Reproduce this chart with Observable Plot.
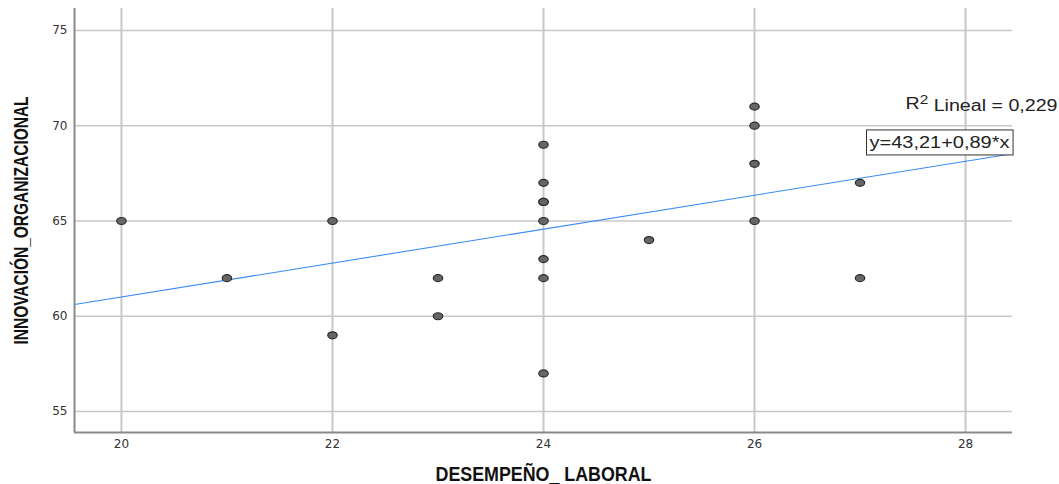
<!DOCTYPE html>
<html><head><meta charset="utf-8">
<script src="https://cdn.jsdelivr.net/npm/d3@7"></script>
<script src="https://cdn.jsdelivr.net/npm/@observablehq/plot@0.6"></script>
<style>body{margin:0;background:#fff;overflow:hidden}</style>
</head><body><div id="chart"></div>
<script>
const desempeno  = [20,21,22,22,23,23,24,24,24,24,24,24,24,24,25,26,26,26,26,27,27];
const innovacion = [65,62,65,59,62,60,69,67,66,66,65,63,62,57,64,71,70,68,65,67,62];
const intercept = 43.21, slope = 0.89;
const r2Value = "0,229";
const eqLabel = "y=43,21+0,89*x";
const xTicks = [20,22,24,26,28];
const yTicks = [55,60,65,70,75];
const xDomain = [19.555, 28.445];
const yDomain = [53.9, 76.15];
const xTitle = "DESEMPEÑO_ LABORAL";
const yTitle = "INNOVACIÓN_ORGANIZACIONAL";

const pts = desempeno.map((d,i) => ({x: d, y: innovacion[i]}));
const fit = xDomain.map(x => ({x, y: intercept + slope * x}));

// elliptical marker symbol (wider than tall)
const ellipse = {
  draw(ctx, size) {
    const rx = 4.7, ry = 3.5, k = 0.5523;
    ctx.moveTo(rx, 0);
    ctx.bezierCurveTo(rx, ry * k, rx * k, ry, 0, ry);
    ctx.bezierCurveTo(-rx * k, ry, -rx, ry * k, -rx, 0);
    ctx.bezierCurveTo(-rx, -ry * k, -rx * k, -ry, 0, -ry);
    ctx.bezierCurveTo(rx * k, -ry, rx, -ry * k, rx, 0);
    ctx.closePath();
  }
};

const chart = Plot.plot({
  width: 1059, height: 484,
  marginLeft: 74, marginRight: 47, marginTop: 8, marginBottom: 52,
  style: {fontFamily: "'DejaVu Sans', sans-serif", background: "#fff"},
  x: {domain: xDomain, ticks: xTicks},
  y: {domain: yDomain, ticks: yTicks},
  marks: [
    Plot.gridX(xTicks, {stroke: "#c8c8c8", strokeOpacity: 1, strokeWidth: 2}),
    Plot.gridY(yTicks, {stroke: "#c8c8c8", strokeOpacity: 1, strokeWidth: 1.5}),
    Plot.axisX(xTicks, {tickSize: 0, tickPadding: 7, fontSize: 12, color: "#333", label: null}),
    Plot.axisY(yTicks, {tickSize: 0, tickPadding: 7, fontSize: 12, color: "#333", label: null}),
    Plot.ruleX([xDomain[0]], {stroke: "#8a8a8a", strokeWidth: 2}),
    Plot.ruleY([yDomain[0]], {stroke: "#8a8a8a", strokeWidth: 2}),
    Plot.line(fit, {x: "x", y: "y", stroke: "#3b8bf5", strokeWidth: 1.1}),
    Plot.dot(pts, {x: "x", y: "y", symbol: ellipse, fill: "#666", stroke: "#2a2a2a", strokeWidth: 1.2}),
    Plot.text([`R2 Lineal = ${r2Value}`], {frameAnchor: "top-right", lineAnchor: "middle", dx: 45, dy: 95.5, textAnchor: "end", fontSize: 16, fill: "#222", className: "r2"}),
    Plot.text([eqLabel], {frameAnchor: "top-right", lineAnchor: "middle", dx: -3, dy: 134, textAnchor: "end", fontSize: 17, fill: "#222", className: "eq"}),
    Plot.text([xTitle], {frameAnchor: "bottom", lineAnchor: "middle", dy: 42, fontSize: 20, fontWeight: "bold", fill: "#111", className: "ttl ttlx"}),
    Plot.text([yTitle], {frameAnchor: "left", textAnchor: "middle", dx: -53, rotate: -90, fontSize: 20, fontWeight: "bold", fill: "#111", className: "ttl ttly"})
  ]
});
document.getElementById("chart").appendChild(chart);

const svg = d3.select(chart);
const sans = "'Liberation Sans', Arial, sans-serif";
svg.selectAll(".ttl text").style("font-family", sans);
svg.select(".ttlx text").attr("textLength", 216).attr("lengthAdjust", "spacingAndGlyphs");
svg.select(".ttly text").attr("textLength", 248).attr("lengthAdjust", "spacingAndGlyphs");

const r2 = svg.select(".r2 text").style("font-family", sans);
r2.text(null);
r2.append("tspan").text("R");
r2.append("tspan").attr("dy", "-0.42em").attr("font-size", 12.5).text("2");
r2.append("tspan").attr("dy", "0.42em").text(` Lineal = ${r2Value}`);
r2.attr("textLength", 152).attr("lengthAdjust", "spacingAndGlyphs");

const eq = svg.select(".eq text").style("font-family", sans)
  .attr("textLength", 140).attr("lengthAdjust", "spacingAndGlyphs");
const bb = eq.node().getBBox();
const cy = bb.y + bb.height / 2;
d3.select(eq.node().parentNode).insert("rect", "text")
  .attr("transform", eq.attr("transform"))
  .attr("x", bb.x - 3).attr("y", cy - 12.5).attr("width", bb.width + 6).attr("height", 25)
  .attr("fill", "#fff").attr("stroke", "#333").attr("stroke-width", 1);
</script></body></html>
